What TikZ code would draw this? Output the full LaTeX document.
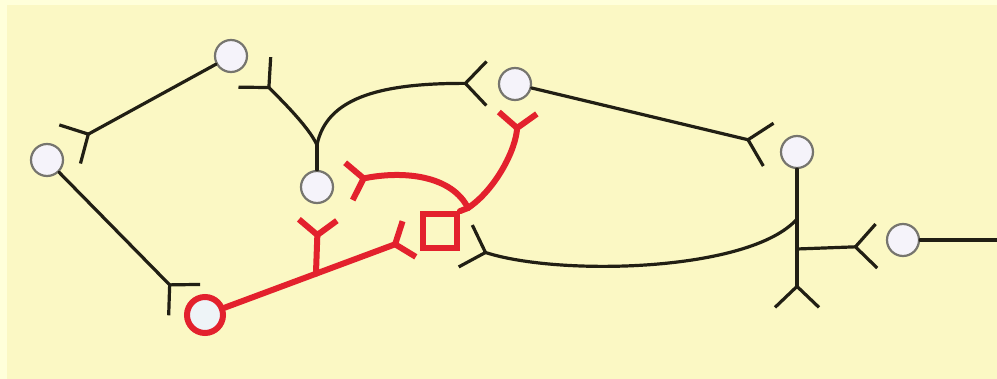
\documentclass[tikz,border=0pt]{standalone}
\usepackage{tikz}
\usetikzlibrary{arrows.meta,calc}
\definecolor{fondo}{HTML}{FBF8C4}
\definecolor{fondoborde}{HTML}{FFFFDA}
\definecolor{tinta}{HTML}{211F14}
\definecolor{rojo}{HTML}{E3212D}
\definecolor{gris}{HTML}{76756E}
\definecolor{relleno}{HTML}{F5F3FA}
\definecolor{rellenorojo}{HTML}{EEF4F7}

\begin{document}
\begin{tikzpicture}[x=0.5pt,y=-0.5pt,
			vertice/.style={circle,draw=gris,line width=1.1pt,fill=relleno,minimum size=16pt,inner sep=0pt},
			verticerojo/.style={circle,draw=rojo,line width=3pt,fill=rellenorojo,minimum size=18pt,inner sep=0pt},
			cuadrado/.style={rectangle,draw=rojo,line width=2.8pt,minimum size=17pt,inner sep=0pt},
			linea/.style={draw=tinta,line width=1.6pt,line cap=round},
			linearoja/.style={draw=rojo,line width=3pt,line cap=round,line join=round},
			horquilla/.style={-{Straight Barb[reversed,length=10.5pt,width=22pt]}},
			horquillaroja/.style={-{Straight Barb[reversed,length=7.5pt,width=19pt]}}
			]
			\fill[fondoborde] (0,0) rectangle (997,379);
			\fill[fondo] (7,5) rectangle (997,379);
			\useasboundingbox (0,0) rectangle (997,379);

			\node[vertice] (v1) at (231,56) {};
			\node[vertice] (v2) at (47,160) {};
			\node[vertice] (v3) at (317,187) {};
			\node[vertice] (v4) at (515,84) {};
			\node[vertice] (v5) at (797,152) {};
			\node[vertice] (v6) at (903,240) {};
			\node[verticerojo] (vr) at (205,315) {};
			\node[cuadrado] (cu) at (440,231) {};

			\coordinate (h1) at (68.5,145);
			\coordinate (h2) at (185.5,301);
			\coordinate (h3) at (253.5,71);
			\coordinate (h4) at (488,83.5);
			\coordinate (h5) at (770,145);
			\coordinate (h6) at (878,246);
			\coordinate (h7) at (797,309);
			\coordinate (h8) at (464,245.5);
			\coordinate (j1) at (317,145);
			\coordinate (j2) at (797,219);
			\coordinate (j3) at (797,249);
			\coordinate (fin) at (997,240);

			\coordinate (hr1) at (318,217);
			\coordinate (hr2) at (412,238);
			\coordinate (hr3) at (518,110);
			\coordinate (hr4) at (346,182);
			\coordinate (jr) at ($(vr)!0.536!(hr2)$);
			\coordinate (jc) at (468,208);

			\draw[linea,horquilla] (v1) -- (h1);
			\draw[linea,horquilla] (v2) -- (h2);
			\draw[linea] (v3) -- (j1);
			\draw[linea,horquilla] (j1) .. controls (308,125) and (274,93) .. (h3);
			\draw[linea,horquilla] (j1) .. controls (326,100) and (375,83) .. (h4);
			\draw[linea,horquilla] (v4) -- (h5);
			\draw[linea,horquilla] (v5) -- (h7);
			\draw[linea,horquilla] (j3) -- (h6);
			\draw[linea,horquilla] (j2) .. controls (750,272) and (559,276.4) .. (h8);
			\draw[linea] (v6) -- (fin);

			\draw[linearoja,horquillaroja] (vr) -- (hr2);
			\draw[linearoja,horquillaroja] (jr) -- (hr1);
			\draw[linearoja] (cu.north east) -- (jc);
			\draw[linearoja,horquillaroja] (jc) .. controls (495,190) and (516,150) .. (hr3);
			\draw[linearoja,horquillaroja] (jc) .. controls (452,176) and (405,170) .. (hr4);
		\end{tikzpicture}
\end{document}
